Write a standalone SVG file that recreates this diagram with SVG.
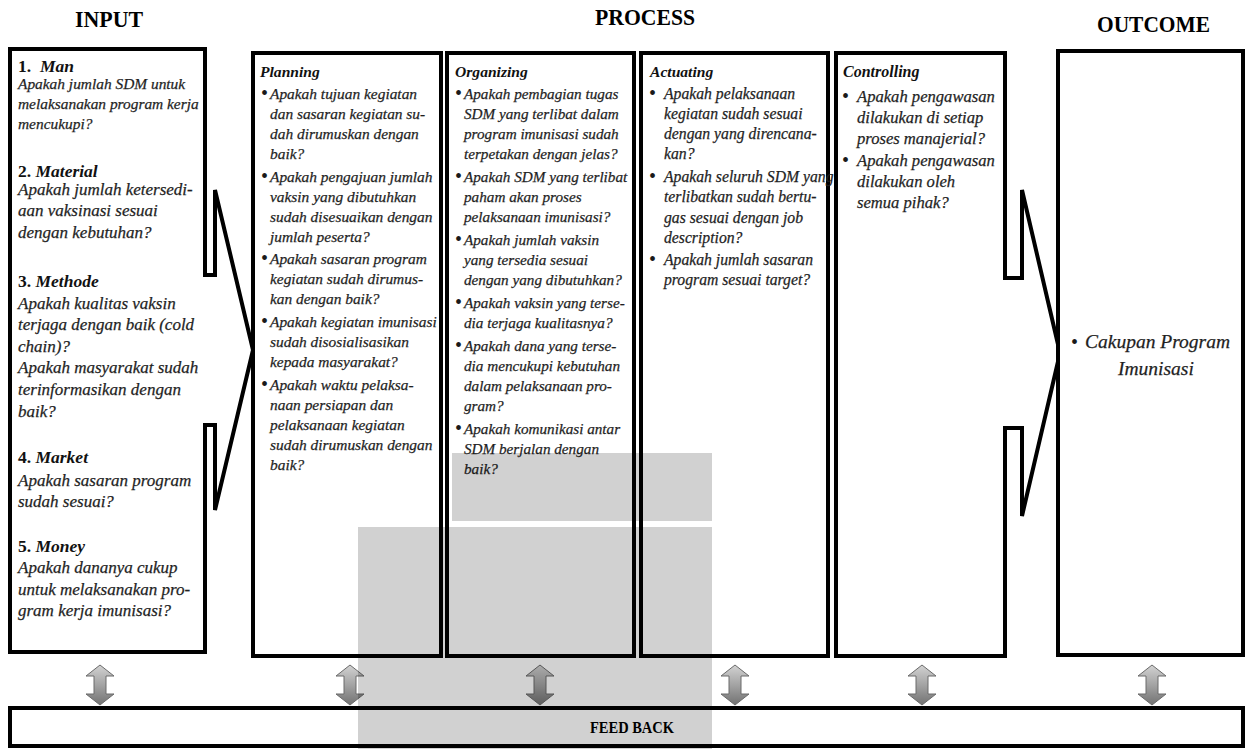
<svg xmlns="http://www.w3.org/2000/svg" width="1253" height="749" viewBox="0 0 1253 749">
  <defs>
    <style>
      .frame { fill: #fff; stroke: #000; stroke-width: 4; stroke-linejoin: miter; }
      .title { font-family: "Liberation Serif", "Times New Roman", serif; font-weight: bold; fill: #000; }
      .t { font-family: "Liberation Serif", "Times New Roman", serif; font-style: italic; fill: #1f1f1f; stroke: #1f1f1f; stroke-width: 0.25; }
      .hd { font-family: "Liberation Serif", "Times New Roman", serif; font-weight: bold; font-style: italic; fill: #111; }
      .num { font-style: normal; }
      .bul { font-family: "Liberation Serif", "Times New Roman", serif; font-size: 20px; fill: #1a1a1a; }
      .arrow { fill: url(#ag); stroke: #6a6a6a; stroke-width: 1; }
    </style>
    <linearGradient id="ag" x1="0" y1="0" x2="0" y2="1">
      <stop offset="0" stop-color="#d2d2d2"/>
      <stop offset="0.5" stop-color="#a3a3a3"/>
      <stop offset="1" stop-color="#727272"/>
    </linearGradient>
    <path id="dbl" d="M0,0 L14,11 L6,11 L6,29 L14,29 L0,40 L-14,29 L-6,29 L-6,11 L-14,11 Z"/>
  </defs>

  <rect width="1253" height="749" fill="#fff"/>

  <!-- column titles -->
  <g id="titles">
    <text class="title" x="75" y="27" font-size="24" textLength="68" lengthAdjust="spacingAndGlyphs">INPUT</text>
    <text class="title" x="595" y="25" font-size="24" textLength="100" lengthAdjust="spacingAndGlyphs">PROCESS</text>
    <text class="title" x="1097" y="32" font-size="24" textLength="113" lengthAdjust="spacingAndGlyphs">OUTCOME</text>
  </g>

  <!-- INPUT: box with right-pointing callout arrow -->
  <g id="input">
    <path class="frame" d="M10,49 H205 V275 H215 V190 L253,350 L215,510 V425 H205 V652 H10 Z"/>
    <text class="hd" x="18" y="72" font-size="17.5"><tspan class="num">1.</tspan></text>
    <text class="hd" x="40" y="72" font-size="17.5">Man</text>
    <text class="t" font-size="15.4">
      <tspan x="18" y="89">Apakah jumlah SDM untuk</tspan>
      <tspan x="18" y="109">melaksanakan program kerja</tspan>
      <tspan x="18" y="129">mencukupi?</tspan>
    </text>
    <text class="hd" x="18" y="177" font-size="17.5"><tspan class="num">2.</tspan> Material</text>
    <text class="t" font-size="17">
      <tspan x="18" y="195">Apakah jumlah ketersedi-</tspan>
      <tspan x="18" y="216">aan vaksinasi sesuai</tspan>
      <tspan x="18" y="238">dengan kebutuhan?</tspan>
    </text>
    <text class="hd" x="18" y="287" font-size="17.5"><tspan class="num">3.</tspan> Methode</text>
    <text class="t" font-size="17">
      <tspan x="18" y="309">Apakah kualitas vaksin</tspan>
      <tspan x="18" y="330">terjaga dengan baik (cold</tspan>
      <tspan x="18" y="352">chain)?</tspan>
      <tspan x="18" y="373">Apakah masyarakat sudah</tspan>
      <tspan x="18" y="395">terinformasikan dengan</tspan>
      <tspan x="18" y="417">baik?</tspan>
    </text>
    <text class="hd" x="18" y="463" font-size="17.5"><tspan class="num">4.</tspan> Market</text>
    <text class="t" font-size="17">
      <tspan x="18" y="486">Apakah sasaran program</tspan>
      <tspan x="18" y="507">sudah sesuai?</tspan>
    </text>
    <text class="hd" x="18" y="552" font-size="17.5"><tspan class="num">5.</tspan> Money</text>
    <text class="t" font-size="17">
      <tspan x="18" y="573">Apakah dananya cukup</tspan>
      <tspan x="18" y="595">untuk melaksanakan pro-</tspan>
      <tspan x="18" y="616">gram kerja imunisasi?</tspan>
    </text>
  </g>

  <!-- PROCESS: Planning -->
  <g id="planning">
    <rect class="frame" x="253" y="53" width="188" height="603"/>
    <text class="hd" x="260" y="77" font-size="15.6">Planning</text>
    <text class="bul"><tspan x="261" y="100">•</tspan><tspan x="261" y="183">•</tspan><tspan x="261" y="265">•</tspan><tspan x="261" y="328">•</tspan><tspan x="261" y="391">•</tspan></text>
    <text class="t" font-size="15.4">
      <tspan x="270" y="99">Apakah tujuan kegiatan</tspan>
      <tspan x="270" y="119">dan sasaran kegiatan su-</tspan>
      <tspan x="270" y="139">dah dirumuskan dengan</tspan>
      <tspan x="270" y="159">baik?</tspan>
      <tspan x="270" y="182">Apakah pengajuan jumlah</tspan>
      <tspan x="270" y="202">vaksin yang dibutuhkan</tspan>
      <tspan x="270" y="222">sudah disesuaikan dengan</tspan>
      <tspan x="270" y="242">jumlah peserta?</tspan>
      <tspan x="270" y="264">Apakah sasaran program</tspan>
      <tspan x="270" y="284">kegiatan sudah dirumus-</tspan>
      <tspan x="270" y="304">kan dengan baik?</tspan>
      <tspan x="270" y="327">Apakah kegiatan imunisasi</tspan>
      <tspan x="270" y="347">sudah disosialisasikan</tspan>
      <tspan x="270" y="367">kepada masyarakat?</tspan>
      <tspan x="270" y="390">Apakah waktu pelaksa-</tspan>
      <tspan x="270" y="410">naan persiapan dan</tspan>
      <tspan x="270" y="430">pelaksanaan kegiatan</tspan>
      <tspan x="270" y="450">sudah dirumuskan dengan</tspan>
      <tspan x="270" y="470">baik?</tspan>
    </text>
  </g>

  <!-- PROCESS: Organizing -->
  <g id="organizing">
    <rect class="frame" x="447" y="53" width="187" height="603"/>
    <text class="hd" x="455" y="77" font-size="15.6">Organizing</text>
    <text class="bul"><tspan x="455" y="100">•</tspan><tspan x="455" y="183">•</tspan><tspan x="455" y="246">•</tspan><tspan x="455" y="309">•</tspan><tspan x="455" y="352">•</tspan><tspan x="455" y="435">•</tspan></text>
    <text class="t" font-size="15.2">
      <tspan x="464" y="99">Apakah pembagian tugas</tspan>
      <tspan x="464" y="119">SDM yang terlibat dalam</tspan>
      <tspan x="464" y="139">program imunisasi sudah</tspan>
      <tspan x="464" y="159">terpetakan dengan jelas?</tspan>
      <tspan x="464" y="182">Apakah SDM yang terlibat</tspan>
      <tspan x="464" y="202">paham akan proses</tspan>
      <tspan x="464" y="222">pelaksanaan imunisasi?</tspan>
      <tspan x="464" y="245">Apakah jumlah vaksin</tspan>
      <tspan x="464" y="265">yang tersedia sesuai</tspan>
      <tspan x="464" y="285">dengan yang dibutuhkan?</tspan>
      <tspan x="464" y="308">Apakah vaksin yang terse-</tspan>
      <tspan x="464" y="328">dia terjaga kualitasnya?</tspan>
      <tspan x="464" y="351">Apakah dana yang terse-</tspan>
      <tspan x="464" y="371">dia mencukupi kebutuhan</tspan>
      <tspan x="464" y="391">dalam pelaksanaan pro-</tspan>
      <tspan x="464" y="411">gram?</tspan>
      <tspan x="464" y="434">Apakah komunikasi antar</tspan>
      <tspan x="464" y="454">SDM berjalan dengan</tspan>
      <tspan x="464" y="474">baik?</tspan>
    </text>
  </g>

  <!-- PROCESS: Actuating -->
  <g id="actuating">
    <rect class="frame" x="641" y="53" width="187" height="603"/>
    <text class="hd" x="650" y="77" font-size="15.6">Actuating</text>
    <text class="bul"><tspan x="649" y="100">•</tspan><tspan x="649" y="183">•</tspan><tspan x="649" y="266">•</tspan></text>
    <text class="t" font-size="15.7">
      <tspan x="664" y="99">Apakah pelaksanaan</tspan>
      <tspan x="664" y="119">kegiatan sudah sesuai</tspan>
      <tspan x="664" y="139">dengan yang direncana-</tspan>
      <tspan x="664" y="159">kan?</tspan>
      <tspan x="664" y="182">Apakah seluruh SDM yang</tspan>
      <tspan x="664" y="202">terlibatkan sudah bertu-</tspan>
      <tspan x="664" y="223">gas sesuai dengan job</tspan>
      <tspan x="664" y="243">description?</tspan>
      <tspan x="664" y="265">Apakah jumlah sasaran</tspan>
      <tspan x="664" y="285">program sesuai target?</tspan>
    </text>
  </g>

  <!-- PROCESS: Controlling, with callout arrow into the outcome -->
  <g id="controlling">
    <path class="frame" d="M836,53 H1005 V278 H1022 V190 L1060,353 L1022,516 V428 H1005 V656 H836 Z"/>
    <text class="hd" x="843" y="77" font-size="16">Controlling</text>
    <text class="bul"><tspan x="842" y="103">•</tspan><tspan x="842" y="167">•</tspan></text>
    <text class="t" font-size="16.6">
      <tspan x="857" y="102">Apakah pengawasan</tspan>
      <tspan x="857" y="123">dilakukan di setiap</tspan>
      <tspan x="857" y="144">proses manajerial?</tspan>
      <tspan x="857" y="166">Apakah pengawasan</tspan>
      <tspan x="857" y="187">dilakukan oleh</tspan>
      <tspan x="857" y="208">semua pihak?</tspan>
    </text>
  </g>

  <!-- OUTCOME -->
  <g id="outcome">
    <rect class="frame" x="1058" y="51" width="185" height="604"/>
    <text class="bul" x="1071" y="349">•</text>
    <text class="t" font-size="19.5">
      <tspan x="1085" y="348">Cakupan Program</tspan>
      <tspan x="1118" y="375">Imunisasi</tspan>
    </text>
  </g>

  <!-- feedback bar -->
  <g id="feedback">
    <rect class="frame" x="10" y="708" width="1233" height="38"/>
    <text class="title" x="590" y="733" font-size="16" textLength="84" lengthAdjust="spacingAndGlyphs">FEED BACK</text>
  </g>

  <!-- two-way links between each column and the feedback bar -->
  <g id="connectors">
    <use href="#dbl" class="arrow" x="100" y="665"/>
    <use href="#dbl" class="arrow" x="350" y="665"/>
    <use href="#dbl" class="arrow" x="540" y="665"/>
    <use href="#dbl" class="arrow" x="735" y="665"/>
    <use href="#dbl" class="arrow" x="922" y="665"/>
    <use href="#dbl" class="arrow" x="1152" y="665"/>
  </g>

  <!-- translucent watermark block -->
  <g id="watermark" fill="#000" fill-opacity="0.18">
    <rect x="452" y="453" width="260" height="68"/>
    <rect x="358" y="527" width="354" height="222"/>
  </g>
</svg>
